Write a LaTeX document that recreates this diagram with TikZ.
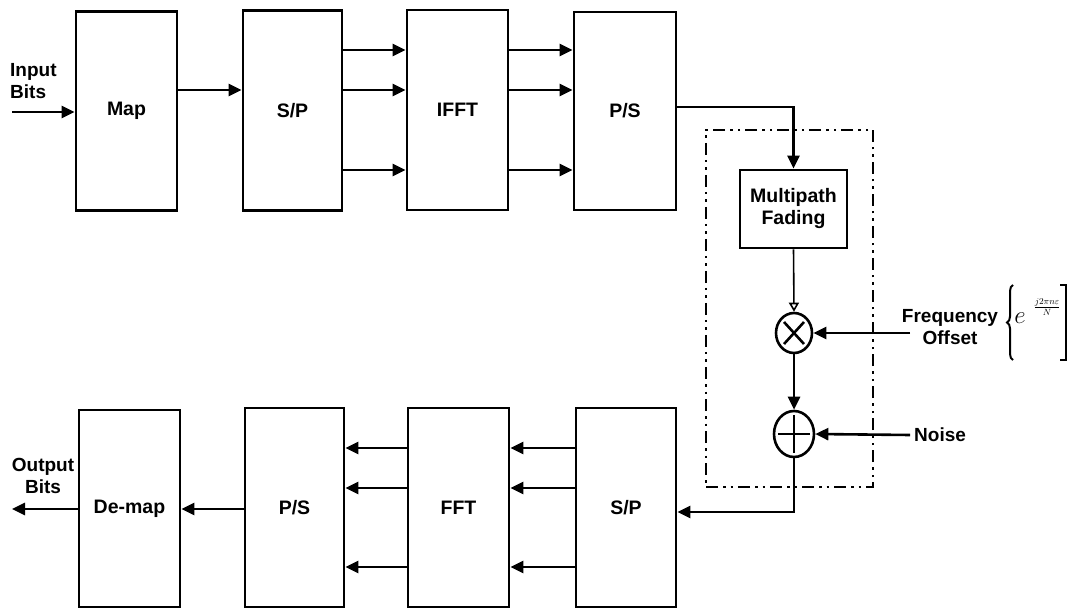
\documentclass[tikz,border=0pt]{standalone}
\usepackage{fontspec}
\setmainfont{Liberation Sans}
\usetikzlibrary{arrows.meta,shapes.geometric,decorations.pathreplacing,calc}
\tikzset{
  blk/.style={draw, line width=2.8pt, inner sep=0pt, font=\fontsize{19.5}{22}\selectfont\bfseries, align=center},
  arr/.style={line width=2.6pt, -{Triangle[length=13pt,width=12pt]}},
  thinarr/.style={line width=1.6pt, -{Triangle[open,length=9pt,width=10pt,line width=1.6pt]}},
  circ/.style={draw, ellipse, line width=2.6pt, inner sep=0pt},
  sym/.style={line width=2.6pt},
  lbl/.style={font=\fontsize{19}{22}\selectfont\bfseries, align=center, inner sep=0pt},
  chanbox/.style={draw, line width=2.2pt, dash pattern=on 12pt off 5pt on 2.5pt off 5pt on 2.5pt off 5pt, inner sep=0pt}
}
\begin{document}
\begin{tikzpicture}[x=1pt,y=-1pt]
\useasboundingbox (0,0) rectangle (1070,609);
% top row
\node[blk, minimum width=101pt, minimum height=199pt] (map) at (126.5,111) {Map};
\node[blk, minimum width=99pt, minimum height=200pt] (sp1) at (292.5,110.5) {S/P};
\node[blk, minimum width=101pt, minimum height=200pt] (ifft) at (457.5,110) {IFFT};
\node[blk, minimum width=102pt, minimum height=198pt] (ps1) at (625,111) {P/S};
% channel
\node[chanbox, minimum width=167pt, minimum height=357pt] (chan) at (789.5,308.5) {};
\node[blk, minimum width=107pt, minimum height=78pt] (mp) at (793.5,209) {Multipath\\Fading};
\node[circ, minimum width=36pt, minimum height=40pt] (mul) at (794,333) {};
\node[circ, minimum width=40pt, minimum height=46pt] (add) at (794,434) {};
\draw[sym] ($(mul.center)+(-10,-11)$) -- ($(mul.center)+(10,11)$);
\draw[sym] ($(mul.center)+(-10,11)$) -- ($(mul.center)+(10,-11)$);
\draw[sym] ($(add.center)+(-16,0)$) -- ($(add.center)+(16,0)$);
\draw[sym] ($(add.center)+(0,-19)$) -- ($(add.center)+(0,19)$);
% bottom row
\node[blk, minimum width=100pt, minimum height=199pt] (sp2) at (626,507.5) {S/P};
\node[blk, minimum width=101pt, minimum height=199pt] (fft) at (458.5,507.5) {FFT};
\node[blk, minimum width=99pt, minimum height=199pt] (ps2) at (294.5,507.5) {P/S};
\node[blk, minimum width=101pt, minimum height=197pt] (demap) at (129.5,508.5) {De-map};
% labels
\node[lbl, anchor=west, align=left] (inlbl) at (10,81) {Input\\Bits};
\node[lbl] (outlbl) at (43,476) {Output\\Bits};
\node[lbl] (freq) at (950,327) {Frequency\\Offset};
\node[lbl, anchor=west] (noise) at (914,435) {Noise};
\node[inner sep=0pt, font=\fontsize{24}{24}\selectfont] (eexp) at (1020,318) {$e$};
\node[inner sep=0pt, font=\fontsize{19}{19}\selectfont] (frac) at (1047,307) {$\scriptstyle\frac{j2\pi n\varepsilon}{N}$};
\coordinate (in) at (12,112);
\coordinate (out) at (12,509);
\coordinate (fin) at (910,333);
\coordinate (nin) at (910,435);
% connectors
\draw[arr] (in) -- (in -| map.west);
\draw[arr] (map.east |- 0,90) -- (sp1.west |- 0,90);
\foreach \yy in {50,90,170} {
  \draw[arr] (sp1.east |- 0,\yy) -- (ifft.west |- 0,\yy);
  \draw[arr] (ifft.east |- 0,\yy) -- (ps1.west |- 0,\yy);
}
\draw[arr] (ps1.east |- 0,107) -| (mp.north);
\draw[thinarr] (mp.south) -- (mul.north);
\draw[arr] (mul.south) -- (add.north);
\draw[arr] (fin) -- (mul.east);
\draw[arr] (nin) -- (add.east);
\draw[arr] (add.south) |- (sp2.east |- 0,512);
\foreach \yy in {448,488,567} {
  \draw[arr] (sp2.west |- 0,\yy) -- (fft.east |- 0,\yy);
  \draw[arr] (fft.west |- 0,\yy) -- (ps2.east |- 0,\yy);
}
\draw[arr] (ps2.west |- 0,509) -- (demap.east |- 0,509);
\draw[arr] (demap.west |- 0,509) -- (out);
% brace and bracket
\draw[line width=2pt, decorate, decoration={brace, amplitude=6pt}] (1013,360) -- (1013,285);
\draw[line width=2pt] (1060,285) -- (1066,285) -- (1066,360) -- (1060,360);
\end{tikzpicture}
\end{document}
